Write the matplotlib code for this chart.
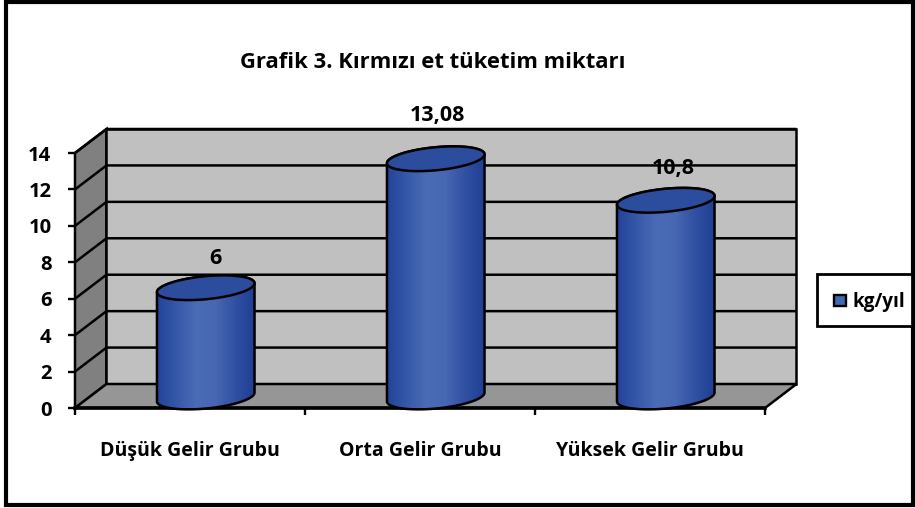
import numpy as np
import matplotlib
matplotlib.use("Agg")
import matplotlib.pyplot as plt
from matplotlib.patches import Polygon, Rectangle
from matplotlib.colors import LinearSegmentedColormap

title = "Grafik 3. Kırmızı et tüketim miktarı"
categories = ["Düşük Gelir Grubu", "Orta Gelir Grubu", "Yüksek Gelir Grubu"]
values = [6, 13.08, 10.8]
value_labels = ["6", "13,08", "10,8"]
series_name = "kg/yıl"
y_ticks = [0, 2, 4, 6, 8, 10, 12, 14]

W, H = 915, 508
FONT = "Open Sans"
FS = 14
plt.rcParams["font.family"] = FONT
plt.rcParams["font.weight"] = "bold"

fig = plt.figure(figsize=(W / 100, H / 100), dpi=100, facecolor="white")
L, R, T, B = 75, 765, 153, 408
ax = fig.add_axes([L / W, 1 - B / H, (R - L) / W, (B - T) / H])
ax.set_xlim(0, 3)
ax.set_ylim(0, 14)
ax.patch.set_visible(False)
for s in ax.spines.values():
    s.set_visible(False)

sx = (R - L) / 3
sy = (B - T) / 14
dx = 31.5 / sx
dy = 24 / sy
LW = 1.8

ax.add_patch(Polygon([(0, 0), (dx, dy), (dx, 14 + dy), (0, 14)], fc="#808080", ec="black", lw=LW, clip_on=False, zorder=1))
ax.add_patch(Rectangle((dx, dy), 3, 14, fc="#c0c0c0", ec="black", lw=LW, clip_on=False, zorder=1))
ax.add_patch(Polygon([(0, 0), (dx, dy), (3 + dx, dy), (3, 0)], fc="#969696", ec="black", lw=LW, clip_on=False, zorder=1))
for v in y_ticks[1:]:
    ax.plot([0, dx, 3 + dx], [v, v + dy, v + dy], color="black", lw=LW, clip_on=False, zorder=2, solid_capstyle="butt")
ax.plot([0, 3], [0, 0], color="black", lw=LW + 0.8, clip_on=False, zorder=2)

ax.set_yticks(y_ticks)
ax.set_xticks([0, 1, 2, 3])
ax.set_xticklabels([])
ax.tick_params(axis="both", length=5, width=1.7, color="black", labelsize=14.5, pad=12)
for i, c in enumerate(categories):
    fig.text((190 + 230 * i) / W, 1 - 451 / H, c, ha="center", va="center", fontsize=FS, fontweight="bold")

cmap = LinearSegmentedColormap.from_list("cyl", ["#23439a", "#3558a8", "#4a6bb5", "#4767b2", "#3050a2", "#1f3f94"])
a, b, th = 49.0, 11.5, np.radians(5.5)

def ellipse(cx, cy, t):
    x = cx + (a * np.cos(t) * np.cos(th) - b * np.sin(t) * np.sin(th)) / sx
    y = cy + (a * np.cos(t) * np.sin(th) + b * np.sin(t) * np.cos(th)) / sy
    return np.column_stack([x, y])

t0 = np.arctan2(-b * np.sin(th), a * np.cos(th))
tt = np.linspace(0, 2 * np.pi, 100)
for i, v in enumerate(values):
    cx = i + 0.5 + dx / 2
    cy = dy / 2 - 1.0 / sy
    lower = ellipse(cx, cy, np.linspace(np.pi + t0, 2 * np.pi + t0, 50))
    upper = ellipse(cx, cy + v, np.linspace(t0, np.pi + t0, 50))
    body = Polygon(np.vstack([lower, upper]), closed=True, fc="none", ec="black", lw=LW, zorder=4, clip_on=False)
    ax.add_patch(body)
    xmin, xmax = lower[:, 0].min(), lower[:, 0].max()
    im = ax.imshow(np.linspace(0, 1, 256)[None, :], extent=[xmin, xmax, 0, v + dy], cmap=cmap, aspect="auto", zorder=3)
    clip = Polygon(np.vstack([lower, upper]), closed=True, transform=ax.transData)
    im.set_clip_path(clip)
    ax.add_patch(Polygon(ellipse(cx, cy + v, tt), closed=True, fc="#2c4c9e", ec="black", lw=LW, zorder=5, clip_on=False))

ax.set_xlim(0, 3)
ax.set_ylim(0, 14)

label_pos = [(215, 258), (437, 116), (673, 168)]
for s, (px, py) in zip(value_labels, label_pos):
    fig.text(px / W, 1 - py / H, s, ha="center", va="center", fontsize=15.5, fontweight="bold", zorder=10)

fig.text(433 / W, 1 - 62 / H, title, ha="center", va="center", fontsize=15.8, fontweight="bold")

def px_rect(x0, y0, x1, y1, **kw):
    return Rectangle((x0 / W, 1 - y1 / H), (x1 - x0) / W, (y1 - y0) / H, transform=fig.transFigure, **kw)

fig.add_artist(px_rect(5.5, 1.5, 913, 504.5, fc="none", ec="black", lw=3))
fig.add_artist(px_rect(817, 274, 912, 326, fc="white", ec="black", lw=2))
fig.add_artist(px_rect(834, 295, 846, 306, fc="#4169b2", ec="black", lw=1.7))
fig.text(852 / W, 1 - 302 / H, series_name, ha="left", va="center", fontsize=13.6, fontweight="bold")

fig.savefig("out.png", dpi=100)
